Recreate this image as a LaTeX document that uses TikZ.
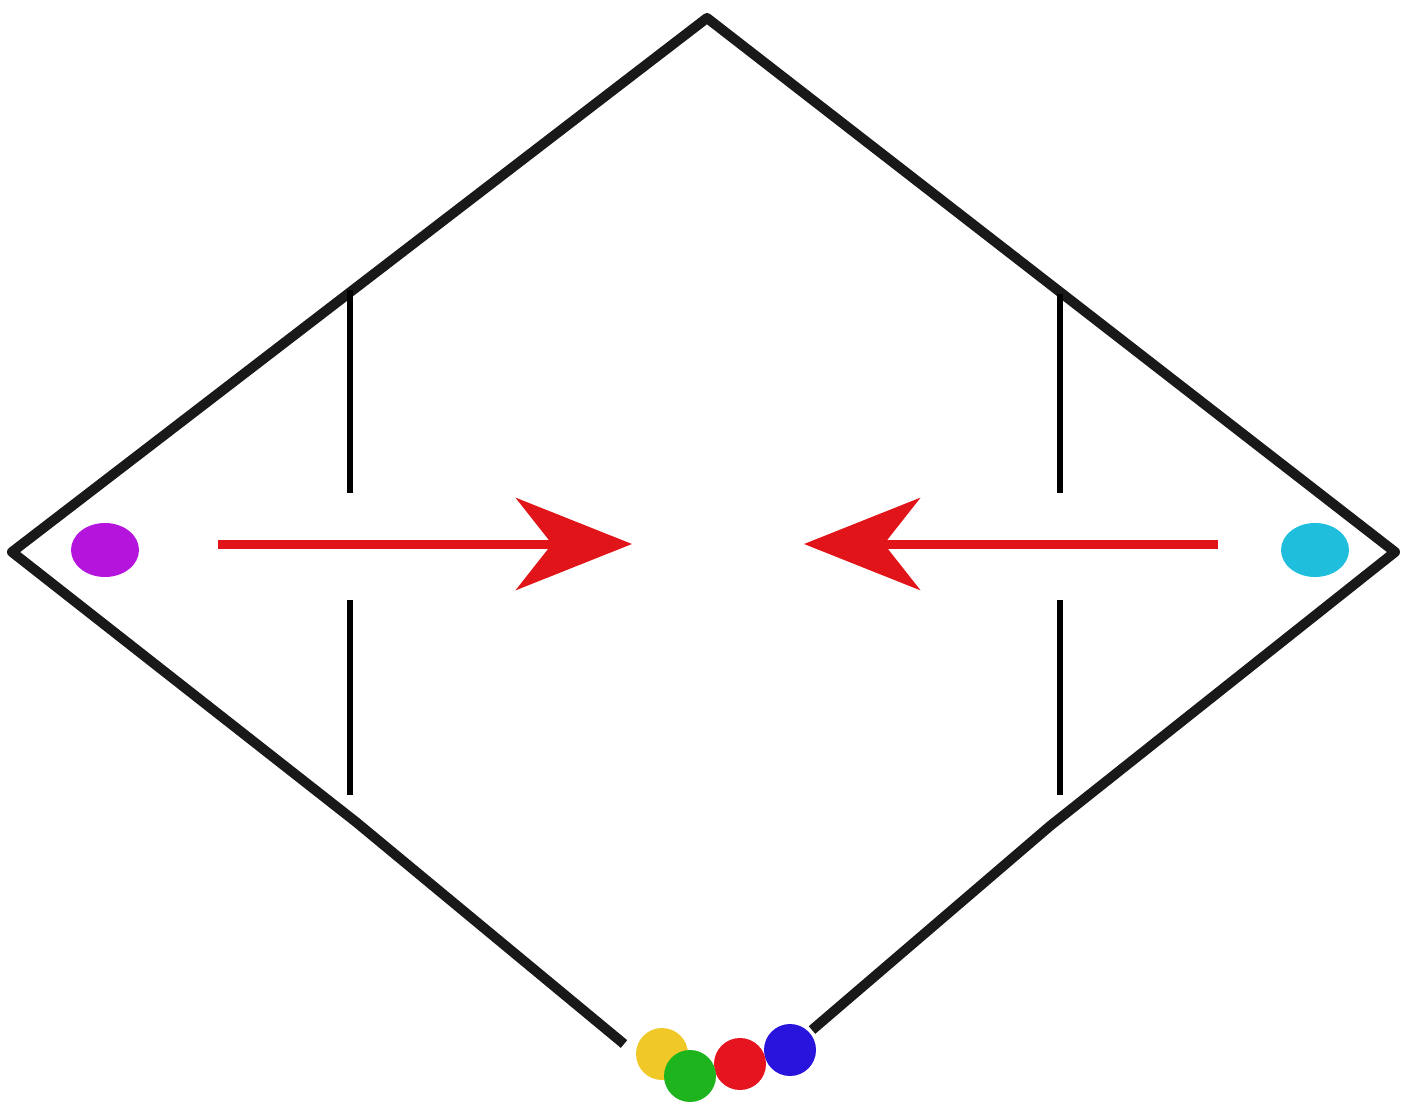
\documentclass[tikz,border=0pt]{standalone}
\usepackage{xcolor}
\usepackage{tikz}
\usetikzlibrary{arrows.meta, positioning, shapes.geometric}

\definecolor{dotpurple}{RGB}{180,20,220}
\definecolor{dotcyan}{RGB}{30,190,220}
\definecolor{dotyellow}{RGB}{240,200,40}
\definecolor{dotgreen}{RGB}{30,180,30}
\definecolor{dotred}{RGB}{230,20,30}
\definecolor{dotblue}{RGB}{40,20,220}
\definecolor{arrowred}{RGB}{225,20,25}

\begin{document}
\begin{tikzpicture}[
    x=0.5pt, y=-0.5pt,
    edge/.style={draw=black!90, line width=5pt, line join=round},
    wall/.style={draw, line width=3pt},
    dot/.style={circle, inner sep=0pt, minimum size=26pt},
    sidedot/.style={ellipse, inner sep=0pt, minimum width=34pt, minimum height=27pt},
    push/.style={draw=arrowred, line width=4.5pt, -{Stealth[length=58pt, width=46pt, inset=18pt]}}
]
    \useasboundingbox (0,0) rectangle (1401,1106);

    % Corners
    \coordinate (top) at (707,18);
    \coordinate (left) at (12,552);
    \coordinate (right) at (1395,552);
    \coordinate (botl) at (624,1044);
    \coordinate (botr) at (812,1030);

    % Outline
    \path [edge] (botl) -- (356,822) -- (left) -- (top) -- (right) -- (1050,826) -- (botr);

    % Walls
    \path [wall] (350,290) -- (350,493);
    \path [wall] (350,600) -- (350,795);
    \path [wall] (1060,294) -- (1060,493);
    \path [wall] (1060,600) -- (1060,795);

    % Dots
    \node [sidedot, fill=dotpurple] (pdot) at (105,550) {};
    \node [sidedot, fill=dotcyan] (cdot) at (1315,550) {};
    \node [dot, fill=dotyellow] (ydot) at (662,1054) {};
    \node [dot, fill=dotblue] (bdot) at (790,1050) {};
    \node [dot, fill=dotred] (rdot) at (740,1064) {};
    \node [dot, fill=dotgreen] (gdot) at (690,1076) {};

    % Arrows
    \coordinate (lstart) at (218,544);
    \coordinate (lend) at (632,544);
    \coordinate (rstart) at (1218,544);
    \coordinate (rend) at (804,544);
    \path [push] (lstart) -- (lend);
    \path [push] (rstart) -- (rend);
\end{tikzpicture}
\end{document}
